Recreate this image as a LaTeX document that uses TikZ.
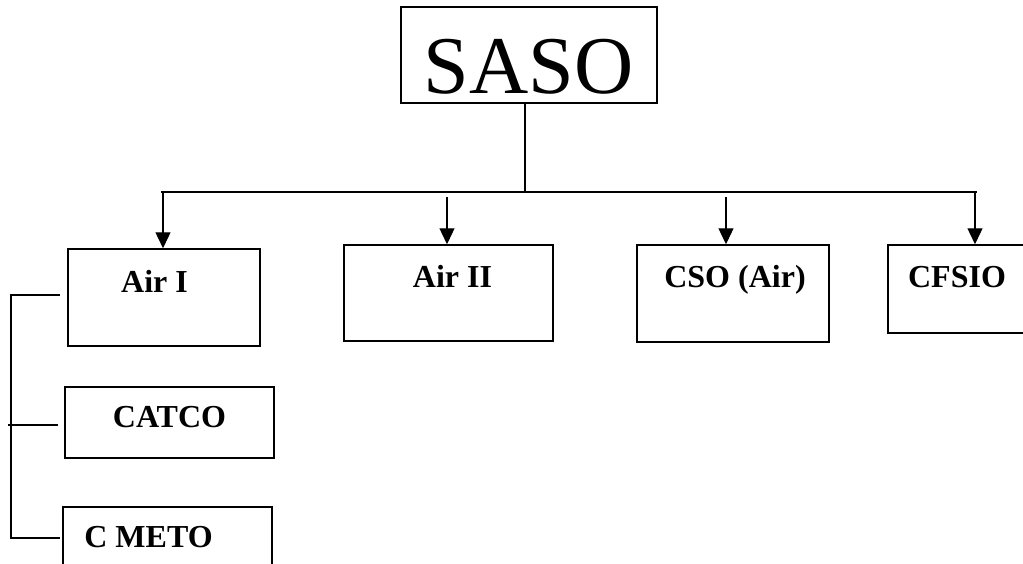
\documentclass[tikz,border=0pt]{standalone}
\usepackage{fontspec}
\setmainfont{Liberation Serif}
\usetikzlibrary{arrows.meta}
\tikzset{
  box/.style={draw, line width=1.5pt, rectangle, inner sep=0pt},
  lbl/.style={anchor=base, inner sep=0pt, font=\fontsize{32}{36}\selectfont\bfseries},
  conn/.style={line width=1.3pt},
  arr/.style={line width=1.3pt, -{Triangle[length=16pt,width=15pt]}}
}
\begin{document}
\begin{tikzpicture}[x=1pt,y=-1pt]
\useasboundingbox (0,0) rectangle (1023,563);
\clip (0,0) rectangle (1023,563);
% top box
\node[box, minimum width=256pt, minimum height=96pt] (saso) at (529,55) {};
\node[anchor=base, inner sep=0pt, font=\fontsize{82}{90}\selectfont] (sasot) at (528.5,93) {SASO};
% second-level boxes
\node[box, minimum width=192pt, minimum height=97pt] (air1) at (164,297.5) {};
\node[box, minimum width=209pt, minimum height=96pt] (air2) at (448.5,293) {};
\node[box, minimum width=192pt, minimum height=97pt] (cso) at (733,293.5) {};
\node[box, minimum width=192pt, minimum height=88pt] (cfsio) at (984,289) {};
\node[lbl] (air1t) at (154.5,292) {Air I};
\node[lbl] (air2t) at (452.5,287) {Air II};
\node[lbl] (csot) at (735,287) {CSO (Air)};
\node[lbl] (cfsiot) at (957,287) {CFSIO};
% left column
\node[box, minimum width=209pt, minimum height=71pt] (catco) at (169.5,422.5) {};
\node[box, minimum width=209pt, minimum height=100pt] (cmeto) at (167.5,557) {};
\node[lbl] (catcot) at (169.5,427) {CATCO};
\node[lbl] (cmetot) at (148.5,547) {C METO};
% connectors
\coordinate (hl) at (161,192);
\coordinate (hm) at (525,192);
\coordinate (hr) at (977,192);
\draw[conn] (hm |- saso.south) -- (hm);
\draw[conn] (hl) -- (hr);
\coordinate (a1) at (163,192);
\coordinate (a2) at (447,197);
\coordinate (a3) at (726,197);
\coordinate (a4) at (975,192);
\draw[arr] (a1) -- (a1 |- air1.north);
\draw[arr] (a2) -- (a2 |- air2.north);
\draw[arr] (a3) -- (a3 |- cso.north);
\draw[arr] (a4) -- (a4 |- cfsio.north);
% left bracket
\coordinate (b1) at (11,295);
\coordinate (b1e) at (60,295);
\coordinate (b2) at (8,425);
\coordinate (b2e) at (58,425);
\coordinate (b3) at (11,538);
\coordinate (b3e) at (60,538);
\draw[conn] (b1e) -- (b1) -- (b3) -- (b3e);
\draw[conn] (b2) -- (b2e);
\end{tikzpicture}
\end{document}
